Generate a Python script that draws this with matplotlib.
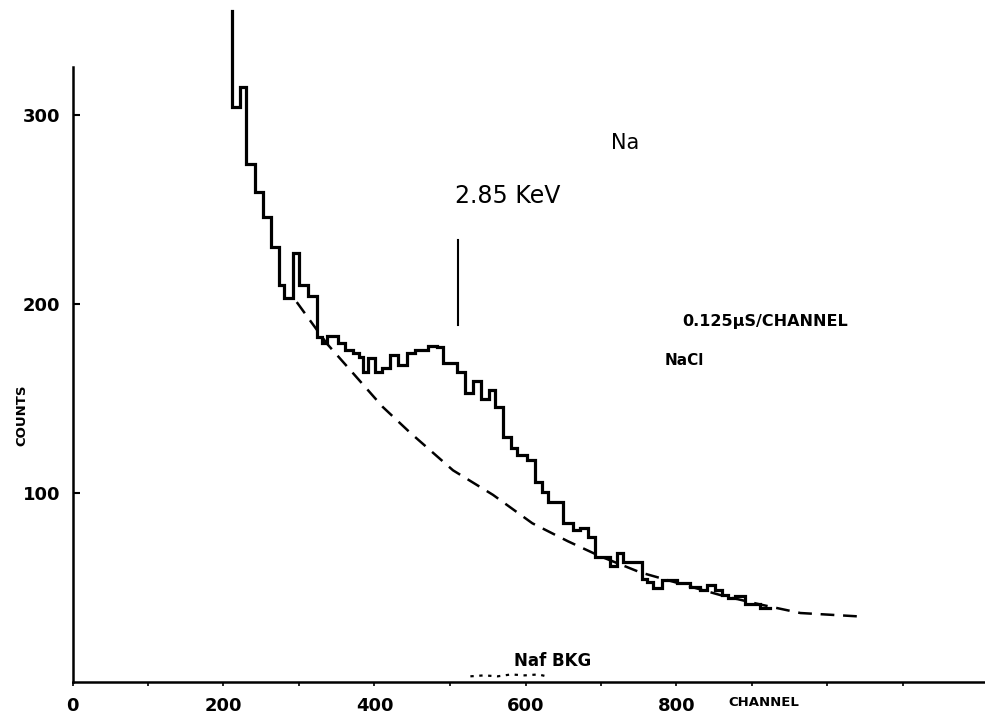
import matplotlib
matplotlib.use("Agg")
import matplotlib.pyplot as plt

# Na x-ray spectrum on NaCl, counts per channel
CHANNEL_EDGES = [211, 222, 230, 242, 252, 263, 274, 280, 292, 300,
                 312, 324, 331, 337, 352, 361, 372, 380, 385, 391,
                 401, 410, 421, 431, 443, 454, 471, 483, 491, 509,
                 520, 531, 541, 552, 560, 570, 581, 589, 602, 613,
                 622, 630, 642, 650, 663, 672, 683, 692, 712, 721,
                 729, 754, 761, 769, 781, 801, 818, 831, 840, 851,
                 860, 868, 878, 891, 911, 924]
COUNTS = [304, 315, 274, 259, 246, 230, 210, 203, 227, 210,
          204, 182.5, 179.5, 183, 179.5, 175.5, 174, 172, 164, 171.5,
          164, 166, 173, 167.5, 174, 175.5, 178, 177, 169, 164,
          153, 159, 150, 154.5, 145.5, 129.5, 124, 120, 117.5, 106,
          100.5, 95, 95, 84, 80.5, 81.5, 76.5, 66, 61.5, 68,
          63.5, 54.5, 53, 49.5, 54, 52.5, 50.5, 48.5, 51.5, 48.5,
          46, 44.5, 45.5, 41.5, 39]
SPIKE_TOP = 355  # first channel runs off the top of the scale

# smooth background (dashed)
BKG_CHANNEL = [297, 337, 368, 411, 447, 504, 557, 609, 656, 699,
               752, 805, 858, 911, 964, 1007, 1050]
BKG_COUNTS = [201, 179, 165, 145.5, 132, 112, 99, 84, 74.5, 66.5,
              58, 52, 46, 41, 36.5, 35.5, 34.5]

# NaI background trace, barely above zero
NAI_CHANNEL = [527, 545, 563, 581, 599, 617, 628]
NAI_COUNTS = [3, 3.5, 3, 4, 3.5, 4, 3]

PEAK_CHANNEL = 511
PEAK_MARK = (189, 234)

X_MAJOR = [0, 200, 400, 600, 800]
X_MINOR = [100, 300, 500, 700, 900, 1000, 1100]
Y_TICKS = [100, 200, 300]

W, H = 985, 719
fig = plt.figure(figsize=(W / 100, H / 100), dpi=100)
# pixel geometry of the scan: x=0 at 72.5 px, y=0 at 682 px, 0.755 px/channel, 1.89 px/count
ax = fig.add_axes([72.5 / W, (H - 682) / H, (W - 72.5) / W, 682 / H])
ax.set_xlim(0, (W - 72.5) / 0.755)
ax.set_ylim(0, 682 / 1.89)

for s in ("top", "right"):
    ax.spines[s].set_visible(False)
ax.spines["left"].set_linewidth(1.8)
ax.spines["bottom"].set_linewidth(1.8)
ax.spines["left"].set_bounds(0, (682 - 67) / 1.89)

# histogram as one continuous step path
xs = [CHANNEL_EDGES[0]]
ys = [SPIKE_TOP]
for i, c in enumerate(COUNTS):
    xs += [CHANNEL_EDGES[i], CHANNEL_EDGES[i + 1]]
    ys += [c, c]
ax.plot(xs, ys, color="black", lw=2.3, solid_joinstyle="miter", clip_on=False)

ax.plot(BKG_CHANNEL, BKG_COUNTS, color="black", lw=1.8, dashes=(5.5, 3.5))
ax.plot(NAI_CHANNEL, NAI_COUNTS, color="black", lw=1.6, dashes=(1.5, 2.5))

ax.plot([PEAK_CHANNEL, PEAK_CHANNEL], PEAK_MARK, color="black", lw=1.5)

ax.set_xticks(X_MAJOR)
ax.set_xticks(X_MINOR, minor=True)
ax.set_xticklabels([str(v) for v in X_MAJOR], fontsize=13, fontweight="bold")
ax.tick_params(axis="x", which="both", direction="out", length=3, width=1.2, pad=8)
ax.set_yticks(Y_TICKS)
ax.set_yticklabels([str(v) for v in Y_TICKS], fontsize=13, fontweight="bold")
ax.tick_params(axis="y", direction="in", length=5, width=1.5, pad=9)

ax.text(732, 285, "Na", fontsize=15, ha="center", va="center")
ax.text(577, 257, "2.85 KeV", fontsize=17, ha="center", va="center")
ax.text(917, 190.5, "0.125\u03bcS/CHANNEL", fontsize=11.5, fontweight="bold",
        ha="center", va="center")
ax.text(811, 170, "NaCl", fontsize=11, fontweight="bold", ha="center", va="center")
ax.text(636, 11, "Naf BKG", fontsize=12, fontweight="bold", ha="center", va="center")
ax.text(916, -11, "CHANNEL", fontsize=9.5, fontweight="bold",
        ha="center", va="center", clip_on=False)
ax.text(-67, 141, "COUNTS", fontsize=9.5, fontweight="bold", rotation=90,
        ha="center", va="center", clip_on=False)

fig.savefig("out.png", dpi=100, facecolor="white")
